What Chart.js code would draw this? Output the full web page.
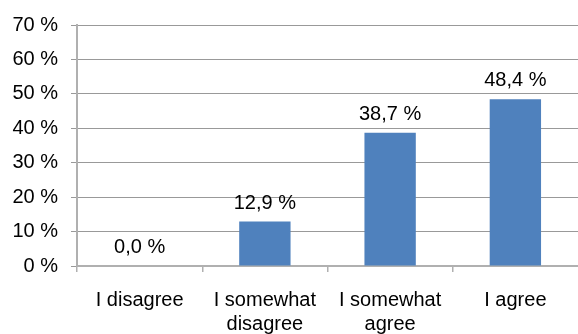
<!DOCTYPE html>
<html>
<head>
<meta charset="utf-8">
<script src="https://cdn.jsdelivr.net/npm/chart.js@4/dist/chart.umd.min.js"></script>
<style>
  html, body { margin: 0; padding: 0; background: #fff; }
  #wrap { width: 578px; height: 334px; }
</style>
</head>
<body>
<div id="wrap"><canvas id="chart" width="578" height="334"></canvas></div>
<script>
// Chart data
const categories = [['I disagree'], ['I somewhat', 'disagree'], ['I somewhat', 'agree'], ['I agree']];
const values = [0.0, 12.9, 38.7, 48.4];
const yTicks = [0, 10, 20, 30, 40, 50, 60, 70];

const barColor = '#4F81BD';
const font = { family: '"Liberation Sans", Arial, sans-serif', size: 20 };

// Value labels above each bar, decimal comma
const valueLabels = {
  id: 'valueLabels',
  afterDatasetsDraw(chart) {
    const ctx = chart.ctx;
    const meta = chart.getDatasetMeta(0);
    ctx.save();
    ctx.font = font.size + 'px ' + font.family;
    ctx.fillStyle = '#000';
    ctx.textAlign = 'center';
    ctx.textBaseline = 'alphabetic';
    meta.data.forEach((bar, i) => {
      const txt = values[i].toFixed(1).replace('.', ',') + ' %';
      ctx.fillText(txt, bar.x, bar.y - 13);
    });
    ctx.restore();
  }
};

new Chart(document.getElementById('chart').getContext('2d'), {
  type: 'bar',
  data: {
    labels: categories,
    datasets: [{
      data: values,
      backgroundColor: barColor,
      borderWidth: 0,
      barPercentage: 0.41,
      categoryPercentage: 1.0
    }]
  },
  options: {
    responsive: false,
    animation: false,
    layout: { padding: { top: 24, right: 0, left: 0, bottom: 0 } },
    plugins: {
      legend: { display: false },
      tooltip: { enabled: false }
    },
    scales: {
      x: {
        offset: true,
        grid: {
          offset: true,
          drawOnChartArea: false,
          drawTicks: true,
          tickLength: 6,
          // the far right end line gets the scale context: hide it
          color: ctx => ctx.type === 'tick' ? '#b0b0b0' : 'rgba(0,0,0,0)',
          lineWidth: 1.5
        },
        border: { color: '#b0b0b0', width: 2 },
        ticks: {
          color: '#000',
          font: font,
          padding: 16,
          maxRotation: 0,
          autoSkip: false
        },
        afterFit(scale) { scale.height = 68; }
      },
      y: {
        min: 0,
        max: 70,
        afterBuildTicks(scale) { scale.ticks = yTicks.map(v => ({ value: v })); },
        grid: {
          color: '#999',
          lineWidth: 1,
          tickLength: 6
        },
        border: { color: '#b0b0b0', width: 2 },
        ticks: {
          color: '#000',
          font: font,
          padding: 13,
          callback: v => v + ' %'
        },
        afterFit(scale) { scale.width = 77; }
      }
    }
  },
  plugins: [valueLabels]
});
</script>
</body>
</html>
